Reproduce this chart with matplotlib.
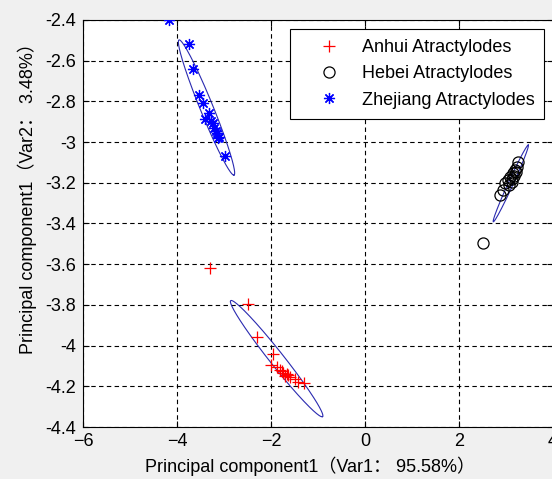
import numpy as np
import matplotlib
matplotlib.use('Agg')
from matplotlib import pyplot as plt

# PCA scores
anhui_x = [-3.30, -2.48, -2.29, -1.95, -1.99, -1.88, -1.81, -1.74, -1.67, -1.70, -1.60, -1.49, -1.42, -1.30, -1.76, -1.64]
anhui_y = [-3.62, -3.796, -3.956, -4.04, -4.095, -4.107, -4.12, -4.133, -4.139, -4.149, -4.153, -4.166, -4.177, -4.185, -4.125, -4.145]
hebei_x = [2.51, 2.87, 2.94, 2.98, 3.04, 3.09, 3.15, 3.19, 3.23, 3.26, 3.12, 3.17, 3.21, 3.06, 3.13]
hebei_y = [-3.496, -3.26, -3.235, -3.20, -3.186, -3.17, -3.152, -3.137, -3.12, -3.10, -3.18, -3.165, -3.145, -3.21, -3.195]
zhejiang_x = [-4.164, -3.745, -3.653, -3.526, -3.440, -3.313, -3.404, -3.240, -3.213, -3.143, -3.100, -3.121, -2.979, -3.28, -3.18]
zhejiang_y = [-2.40, -2.518, -2.639, -2.769, -2.809, -2.858, -2.888, -2.908, -2.932, -2.954, -2.973, -2.981, -3.067, -2.895, -2.945]

# confidence ellipses: centre, major semi-axis vector, minor semi-axis vector (data units)
ell_centre = [(-1.880, -4.064), (3.102, -3.203), (-3.372, -2.830)]
ell_major = [(0.977, -0.285), (0.372, 0.1885), (0.585, -0.332)]
ell_minor = [(0.117, 0.0213), (0.048, -0.0051), (0.128, 0.012)]

labels = ['Anhui Atractylodes', 'Hebei Atractylodes', 'Zhejiang Atractylodes']
xlabel = 'Principal component1\uff08Var1\uff1a 95.58%\uff09'
ylabel = 'Principal component1\uff08Var2\uff1a 3.48%\uff09'

fam = ['Liberation Sans', 'Noto Sans CJK SC', 'DejaVu Sans']
plt.rcParams['font.family'] = fam
fs = 13

fig = plt.figure(figsize=(5.52, 4.79), dpi=100, facecolor='#f0f0f0')
ax = fig.add_axes([83 / 552, 52 / 479, 470 / 552, 407 / 479])
ax.set_facecolor('white')

ell_color = '#2a2ab0'
t = np.linspace(0, 2 * np.pi, 200)
for c, a, b in zip(ell_centre, ell_major, ell_minor):
    ex = c[0] + a[0] * np.cos(t) + b[0] * np.sin(t)
    ey = c[1] + a[1] * np.cos(t) + b[1] * np.sin(t)
    ax.plot(ex, ey, color=ell_color, lw=0.8, zorder=2)

h1, = ax.plot(anhui_x, anhui_y, ls='none', marker='+', color='red', ms=9, mew=0.9, zorder=3)
h2, = ax.plot(hebei_x, hebei_y, ls='none', marker='o', mfc='none', mec='black', ms=8, mew=0.9, zorder=3)
h3, = ax.plot(zhejiang_x, zhejiang_y, ls='none', marker=(8, 2, 0), color='blue', ms=8, mew=0.9, zorder=3)

ax.set_xlim(-6, 4)
ax.set_ylim(-4.4, -2.4)
ax.set_xticks(np.arange(-6, 4.1, 2))
yt = np.round(np.arange(-4.4, -2.39, 0.2), 1)
ax.set_yticks(yt)
ax.set_yticklabels(['%g' % v for v in yt])
ax.tick_params(direction='in', length=4, width=0.8, top=True, right=True, labelsize=fs)
ax.tick_params(axis='y', pad=5)
ax.tick_params(axis='x', pad=4)
ax.grid(True, color='black', ls=(0, (4, 3)), lw=0.8)
for s in ax.spines.values():
    s.set_linewidth(0.8)

ax.set_xlabel(xlabel, fontsize=fs, va='center')
ax.xaxis.set_label_coords((310 - 83) / 470, -(466 - 427) / 407)
ax.set_ylabel(ylabel, fontsize=fs, va='center')
ax.yaxis.set_label_coords((27 - 83) / 470, 1 - (194 - 20) / 407)

leg = ax.legend([h1, h2, h3], labels, loc='upper left',
                bbox_to_anchor=((290 - 83) / 470, 1 - (29 - 20) / 407),
                borderaxespad=0, fancybox=False, edgecolor='black', framealpha=1,
                numpoints=1, borderpad=0.55, handlelength=3.2, handletextpad=0.22,
                labelspacing=0.52, fontsize=fs)
leg.get_frame().set_linewidth(0.8)

fig.savefig('out.png', dpi=100, facecolor=fig.get_facecolor())
